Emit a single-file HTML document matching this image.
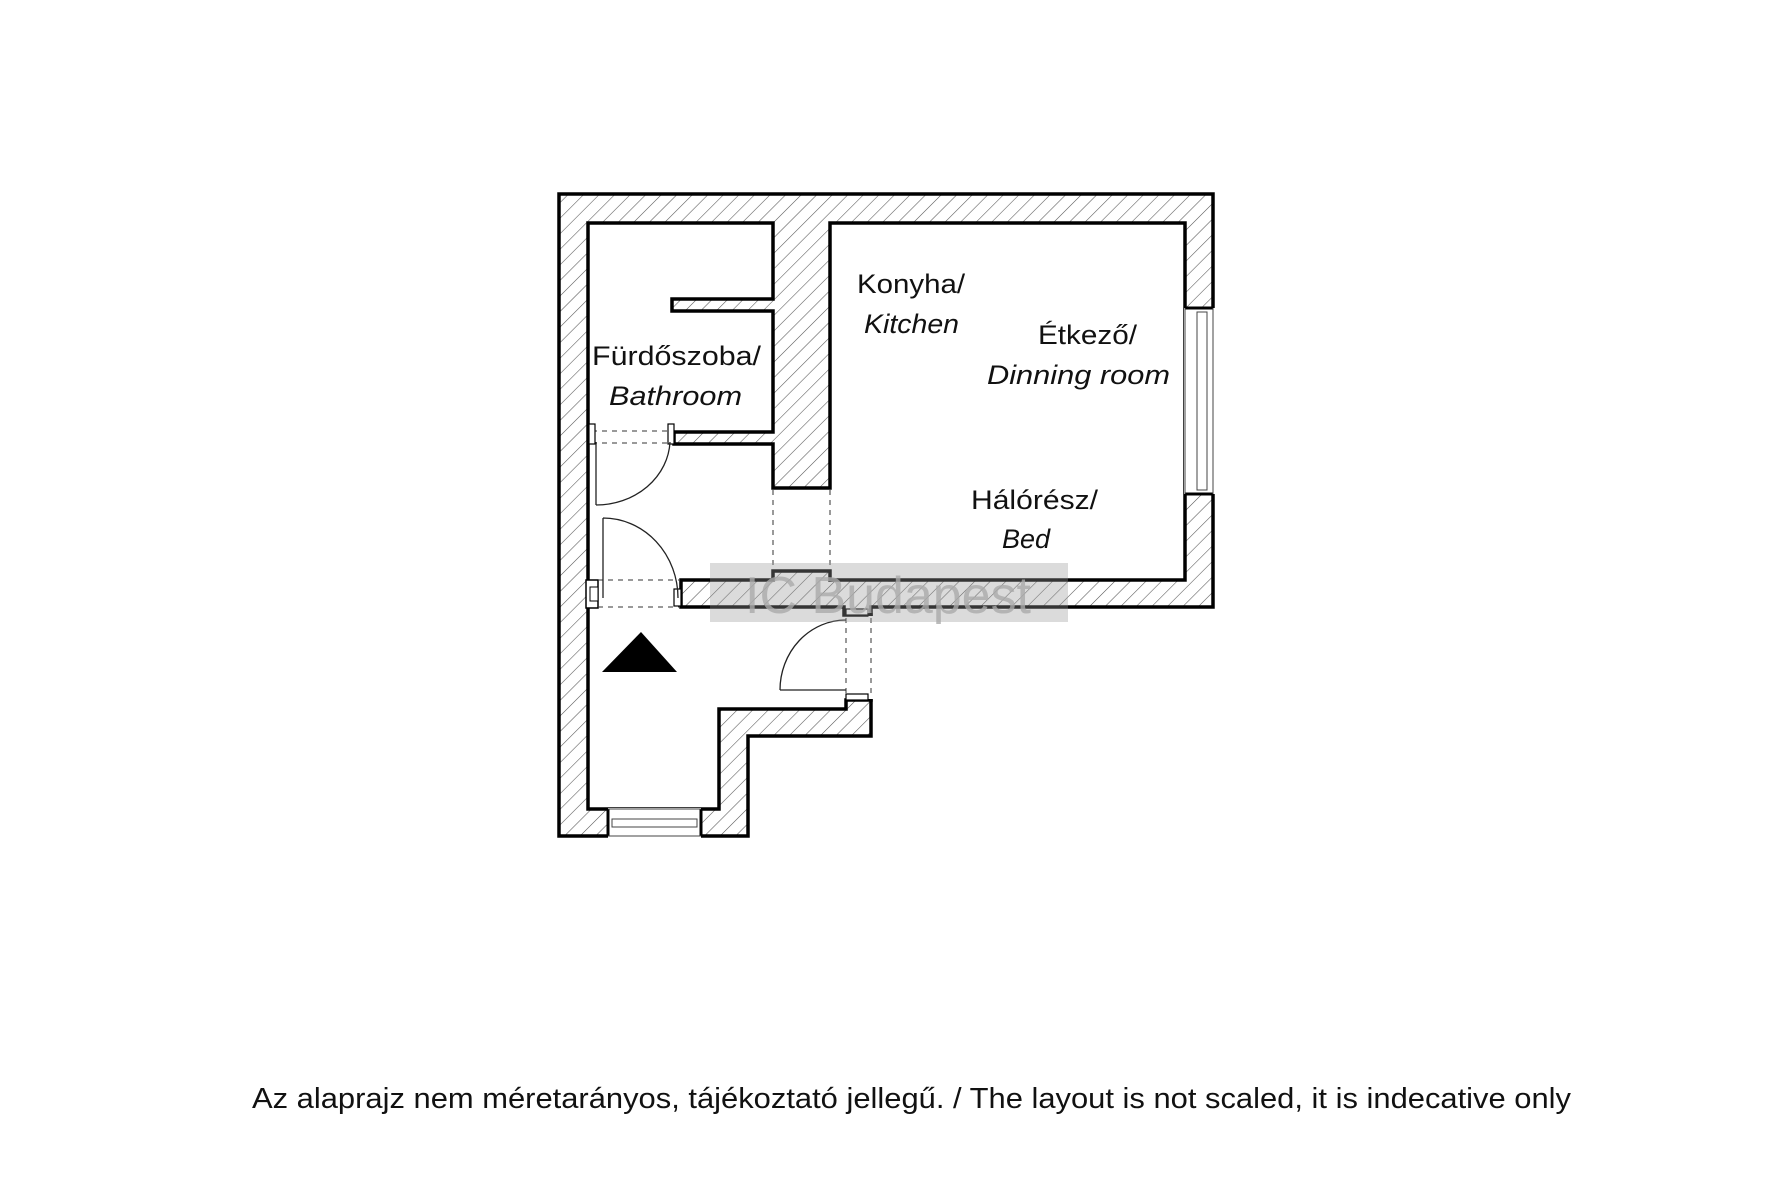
<!DOCTYPE html>
<html><head><meta charset="utf-8"><style>
html,body{margin:0;padding:0;background:#fff;}
svg{display:block;}
text{font-family:"Liberation Sans",sans-serif;fill:#111;}
</style></head><body>
<svg width="1772" height="1181" viewBox="0 0 1772 1181" xmlns="http://www.w3.org/2000/svg">
<defs>
<pattern id="h" patternUnits="userSpaceOnUse" width="11" height="11" patternTransform="rotate(45)">
<rect width="11" height="11" fill="#fff"/>
<line x1="0" y1="0" x2="0" y2="11" stroke="#555" stroke-width="1.1"/>
</pattern>
</defs>
<rect width="1772" height="1181" fill="#fff"/>
<polygon points="559,194 1213,194 1213,607 871,607 871,736 748,736 748,836 559,836" fill="url(#h)" stroke="#000" stroke-width="3.5"/>
<polygon points="588,223 773,223 773,299 672,299 672,311 773,311 773,432 674,432 674,444 773,444 773,488 830,488 830,223 1185,223 1185,580 830,580 830,571 773,571 773,580 681,580 681,607 844,607 844,615 871,615 871,700 846,700 846,709 719,709 719,809 588,809" fill="#fff" stroke="#000" stroke-width="3.5"/>
<rect x="873" y="616" width="30" height="84" fill="#fff"/>
<line x1="871" y1="616" x2="871" y2="699" stroke="#fff" stroke-width="5"/>
<line x1="588" y1="581" x2="588" y2="606" stroke="#fff" stroke-width="5"/>
<rect x="586" y="580" width="12" height="28" fill="#fff" stroke="#000" stroke-width="1.5"/>
<rect x="590" y="587" width="8" height="14" fill="#fff" stroke="#000" stroke-width="1"/>
<rect x="1184" y="308" width="31" height="186" fill="#fff"/>
<line x1="1185" y1="308" x2="1213" y2="308" stroke="#000" stroke-width="3"/>
<line x1="1185" y1="494" x2="1213" y2="494" stroke="#000" stroke-width="3"/>
<rect x="1197" y="312" width="10" height="178" fill="none" stroke="#444" stroke-width="1"/>
<line x1="1185" y1="308" x2="1185" y2="494" stroke="#444" stroke-width="1"/>
<line x1="1213" y1="308" x2="1213" y2="494" stroke="#444" stroke-width="1"/>
<rect x="608" y="808" width="93" height="30" fill="#fff"/>
<line x1="608" y1="809" x2="608" y2="836" stroke="#000" stroke-width="3"/>
<line x1="701" y1="809" x2="701" y2="836" stroke="#000" stroke-width="3"/>
<rect x="612" y="819" width="85" height="8" fill="none" stroke="#444" stroke-width="1"/>
<line x1="608" y1="809" x2="701" y2="809" stroke="#444" stroke-width="1"/>
<line x1="608" y1="836" x2="701" y2="836" stroke="#444" stroke-width="1"/>
<g stroke="#333" stroke-width="1" stroke-dasharray="5,5" fill="none">
<line x1="592" y1="431" x2="670" y2="431"/>
<line x1="592" y1="443" x2="670" y2="443"/>
<line x1="773" y1="490" x2="773" y2="570"/>
<line x1="830" y1="490" x2="830" y2="570"/>
<line x1="598" y1="580" x2="679" y2="580"/>
<line x1="598" y1="607" x2="679" y2="607"/>
<line x1="846" y1="618" x2="846" y2="698"/>
<line x1="871" y1="618" x2="871" y2="698"/>
</g>
<g fill="#fff" stroke="#000" stroke-width="1.2">
<rect x="589" y="424" width="6" height="20"/>
<rect x="668" y="424" width="6" height="20"/>
<rect x="674" y="589" width="7" height="17"/>
<rect x="846" y="609" width="22" height="6"/>
<rect x="846" y="694" width="22" height="6"/>
</g>
<g stroke="#222" stroke-width="1.3" fill="none">
<path d="M596,505 L596,442 M596,505 A74,66 0 0 0 670,442"/>
<path d="M603,518 L603,598 M603,518 A75,80 0 0 1 678,598"/>
<path d="M780,690 L846,690 M780,690 A66,70 0 0 1 846,620"/>
</g>
<polygon points="602,672 677,672 641,632" fill="#000"/>
<text x="857" y="293" font-size="27" textLength="108" lengthAdjust="spacingAndGlyphs">Konyha/</text>
<text x="864" y="333" font-size="27" font-style="italic" textLength="95" lengthAdjust="spacingAndGlyphs">Kitchen</text>
<text x="592" y="365" font-size="27" textLength="169" lengthAdjust="spacingAndGlyphs">Fürdőszoba/</text>
<text x="609" y="405" font-size="27" font-style="italic" textLength="133" lengthAdjust="spacingAndGlyphs">Bathroom</text>
<text x="1038" y="344" font-size="27" textLength="99" lengthAdjust="spacingAndGlyphs">Étkező/</text>
<text x="987" y="384" font-size="27" font-style="italic" textLength="183" lengthAdjust="spacingAndGlyphs">Dinning room</text>
<text x="971" y="509" font-size="27" textLength="127" lengthAdjust="spacingAndGlyphs">Hálórész/</text>
<text x="1002" y="548" font-size="27" font-style="italic" textLength="48" lengthAdjust="spacingAndGlyphs">Bed</text>
<rect x="710" y="563" width="358" height="59" fill="#999" fill-opacity="0.35"/>
<text x="745" y="613" font-size="52" style="fill:#aaa" fill-opacity="0.8" textLength="286" lengthAdjust="spacingAndGlyphs">IC Budapest</text>
<text x="252" y="1108" font-size="29" textLength="1319" lengthAdjust="spacingAndGlyphs">Az alaprajz nem méretarányos, tájékoztató jellegű. / The layout is not scaled, it is indecative only</text>
</svg>
</body></html>
